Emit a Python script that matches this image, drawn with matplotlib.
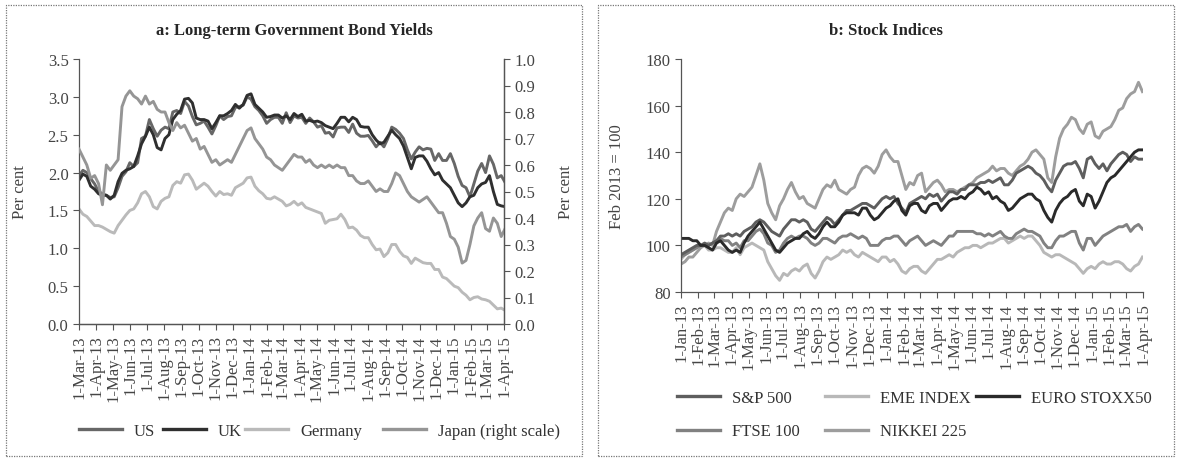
import matplotlib.pyplot as plt
import pandas as pd
from matplotlib.lines import Line2D
from matplotlib.patches import Rectangle

plt.rcParams["font.family"] = ["Liberation Serif", "DejaVu Serif"]
plt.rcParams["font.size"] = 12

# ---- panel a: 10-year government bond yields, weekly, from 1 Mar 2013 ----
bond_start = "2013-03-01"
us = [
    1.96, 2.03, 2.00, 1.92, 1.85,  # Mar 13
    1.75, 1.72, 1.70, 1.67,
    1.68, 1.80, 1.95, 2.01, 2.13,
    2.08, 2.13, 2.45, 2.48,
    2.70, 2.58, 2.48, 2.56,
    2.60, 2.58, 2.80, 2.82, 2.78,
    2.94, 2.88, 2.74, 2.63,
    2.65, 2.68, 2.60, 2.51,
    2.62, 2.75, 2.70, 2.74, 2.75,
    2.86, 2.87, 2.89, 3.00,
    2.97, 2.87, 2.82, 2.75, 2.65,  # Jan 14
    2.70, 2.73, 2.73, 2.65,
    2.79, 2.66, 2.75, 2.72,
    2.73, 2.65, 2.72, 2.67,
    2.60, 2.62, 2.52, 2.53, 2.47,
    2.59, 2.60, 2.60, 2.53,
    2.64, 2.52, 2.48, 2.48,
    2.49, 2.42, 2.34, 2.40, 2.34,
    2.45, 2.60, 2.57, 2.52,
    2.45, 2.30, 2.18, 2.27, 2.34,
    2.30, 2.32, 2.31, 2.16,
    2.25, 2.16, 2.16, 2.25,
    2.12, 1.95, 1.83, 1.80, 1.68,  # Jan 15
    1.85, 2.02, 2.12, 2.00,
    2.22, 2.11, 1.93, 1.96,
    1.87,
]
uk = [
    1.90, 1.98, 1.95, 1.82, 1.78,
    1.72, 1.70, 1.70, 1.65,
    1.70, 1.88, 1.99, 2.03, 2.05,
    2.08, 2.22, 2.38, 2.48,
    2.60, 2.50, 2.33, 2.30,
    2.45, 2.50, 2.70, 2.77, 2.82,
    2.97, 2.98, 2.92, 2.72,
    2.70, 2.70, 2.68, 2.58,
    2.66, 2.75, 2.75, 2.78, 2.82,
    2.90, 2.85, 2.90, 3.02,
    3.04, 2.90, 2.85, 2.80, 2.73,
    2.74, 2.76, 2.76, 2.72,
    2.75, 2.70, 2.78, 2.74,
    2.77, 2.68, 2.69, 2.67,
    2.68, 2.66, 2.62, 2.60, 2.58,
    2.65, 2.73, 2.73, 2.67,
    2.73, 2.70, 2.61, 2.60,
    2.60, 2.50, 2.43, 2.38, 2.40,
    2.48, 2.56, 2.50, 2.45,
    2.35, 2.20, 2.05, 2.20, 2.22,
    2.22, 2.15, 2.05, 1.97,
    2.00, 1.90, 1.85, 1.80,
    1.70, 1.60, 1.55, 1.60, 1.68,
    1.70, 1.80, 1.85, 1.87,
    1.96, 1.75, 1.58, 1.56,
    1.55,
]
germany = [
    1.52, 1.45, 1.42, 1.36, 1.30,
    1.30, 1.28, 1.25, 1.22,
    1.20, 1.30, 1.37, 1.44, 1.50,
    1.52, 1.60, 1.72, 1.75,
    1.68, 1.55, 1.52, 1.62,
    1.66, 1.68, 1.83, 1.88, 1.86,
    1.97, 1.98, 1.90, 1.78,
    1.82, 1.86, 1.82, 1.75,
    1.69, 1.75, 1.71, 1.72, 1.70,
    1.80, 1.83, 1.86, 1.93,
    1.94, 1.82, 1.76, 1.72, 1.66,
    1.65, 1.68, 1.65, 1.62,
    1.56, 1.58, 1.62, 1.57,
    1.60, 1.54, 1.52, 1.50,
    1.48, 1.46, 1.33, 1.37, 1.38,
    1.39, 1.45, 1.38, 1.27,
    1.28, 1.24, 1.17, 1.14,
    1.14, 1.05, 0.98, 0.99, 0.89,
    0.94, 1.05, 1.05, 0.96,
    0.90, 0.88, 0.80, 0.87, 0.84,
    0.81, 0.80, 0.80, 0.72,
    0.72, 0.62, 0.60, 0.55,
    0.50, 0.48, 0.42, 0.38, 0.32,
    0.35, 0.36, 0.33, 0.32,
    0.30, 0.25, 0.20, 0.21,
    0.18,
]
japan = [
    0.66, 0.63, 0.60, 0.55, 0.56,
    0.53, 0.45, 0.60, 0.58,
    0.60, 0.62, 0.82, 0.86, 0.88,
    0.86, 0.85, 0.83, 0.86,
    0.83, 0.84, 0.81, 0.80,
    0.80, 0.76, 0.73, 0.76, 0.74,
    0.75, 0.72, 0.69, 0.70,
    0.66, 0.67, 0.64, 0.61,
    0.62, 0.60, 0.61, 0.62, 0.61,
    0.64, 0.67, 0.70, 0.73,
    0.74, 0.70, 0.68, 0.66, 0.63,
    0.62, 0.60, 0.59, 0.58,
    0.60, 0.62, 0.64, 0.63,
    0.63, 0.61, 0.62, 0.60,
    0.59, 0.60, 0.59, 0.60, 0.59,
    0.60, 0.59, 0.59, 0.56,
    0.56, 0.54, 0.53, 0.53,
    0.54, 0.52, 0.50, 0.51, 0.50,
    0.50, 0.53, 0.57, 0.56,
    0.53, 0.50, 0.48, 0.47, 0.46,
    0.47, 0.48, 0.46, 0.44,
    0.42, 0.42, 0.38, 0.33,
    0.32, 0.29, 0.23, 0.24, 0.30,
    0.37, 0.40, 0.42, 0.36,
    0.35, 0.40, 0.38, 0.33,
    0.36,
]

# ---- panel b: stock indices, Feb 2013 = 100, weekly, from 1 Jan 2013 ----
stock_start = "2013-01-01"
sp500 = [
    96, 97, 98, 99, 100,  # Jan 13
    100, 101, 100, 101,
    102, 104, 104, 105,
    104, 105, 104, 106, 107,
    108, 110, 111, 110,
    108, 106, 105, 104,
    107, 109, 111, 111, 110,
    111, 110, 107, 106,
    108, 110, 112, 111,
    109, 111, 113, 115, 115,
    116, 117, 118, 118,
    117, 116, 118, 120, 121,
    120, 121, 118, 116,  # Jan 14
    114, 118, 119, 120,
    121, 120, 122, 121,
    122, 119, 121, 123, 123,
    122, 124, 124, 126,
    126, 126, 127, 127,
    128, 127, 128, 129, 126,
    126, 128, 131, 132,
    133, 134, 133, 131, 130,
    128, 125, 123, 128,
    131, 134, 135, 135,
    136, 133, 129, 137, 138,
    135, 133, 135, 132,  # Jan 15
    135, 137, 139, 140,
    139, 136, 138, 137, 137,
]
eme = [
    94, 96, 97, 98, 99,
    100, 100, 98, 98,
    99, 99, 98, 97,
    97, 99, 96, 99, 100,
    101, 100, 99, 98,
    93, 90, 87, 85,
    88, 87, 89, 90, 89,
    91, 92, 88, 86,
    89, 93, 95, 94,
    95, 96, 98, 97, 98,
    96, 95, 97, 96,
    95, 94, 93, 95, 95,
    93, 94, 92, 89,
    88, 90, 91, 91,
    89, 88, 90, 92,
    94, 94, 95, 96, 95,
    97, 98, 99, 99,
    100, 100, 99, 100,
    101, 101, 102, 103, 103,
    101, 102, 103, 104,
    103, 104, 104, 102, 100,
    97, 96, 95, 96,
    96, 95, 94, 93,
    92, 90, 88, 90, 91,
    90, 92, 93, 92,
    92, 93, 93, 92,
    90, 89, 91, 92, 95,
]
euro_stoxx50 = [
    103, 103, 103, 102, 102,
    100, 100, 99, 98,
    101, 102, 100, 98,
    97, 98, 97, 101, 104,
    106, 108, 110, 107,
    104, 101, 98, 97,
    99, 101, 102, 103, 103,
    105, 106, 104, 103,
    105, 108, 110, 108,
    108, 110, 113, 114, 114,
    114, 113, 116, 116,
    113, 111, 112, 114, 116,
    117, 119, 120, 115,
    113, 117, 118, 118,
    115, 114, 117, 118,
    118, 115, 117, 119, 120,
    120, 121, 120, 122,
    123, 125, 124, 122,
    123, 120, 121, 119, 118,
    115, 116, 118, 120,
    121, 122, 122, 120, 119,
    115, 112, 110, 115,
    118, 120, 121, 123,
    124, 119, 117, 122, 121,
    116, 119, 123, 127,
    129, 130, 132, 134,
    136, 138, 140, 141, 141,
]
ftse100 = [
    95, 96, 97, 98, 99,
    100, 100, 100, 101,
    102, 103, 102, 102,
    100, 101, 99, 102, 102,
    104, 106, 107, 105,
    101, 100, 97, 98,
    101, 103, 104, 103, 104,
    104, 103, 101, 100,
    101, 103, 103, 102,
    101, 103, 104, 104, 105,
    104, 103, 104, 103,
    100, 100, 100, 102, 103,
    103, 104, 104, 102,
    100, 102, 103, 104,
    102, 100, 101, 102,
    101, 100, 102, 104, 104,
    106, 106, 106, 106,
    106, 105, 105, 104,
    105, 104, 105, 106, 104,
    103, 103, 105, 106,
    107, 106, 106, 105, 104,
    101, 99, 99, 102,
    104, 104, 105, 106,
    106, 101, 98, 103, 103,
    100, 102, 104, 105,
    106, 107, 108, 108,
    109, 106, 108, 109, 107,
]
nikkei225 = [
    92, 93, 95, 95, 97,
    99, 100, 101, 100,
    106, 110, 114, 116,
    115, 120, 122, 121, 123,
    125, 130, 135, 128,
    118, 114, 111, 117,
    120, 124, 127, 123, 120,
    121, 118, 117, 116,
    120, 124, 126, 125,
    128, 124, 123, 122, 124,
    125, 130, 133, 134,
    133, 131, 134, 139, 141,
    138, 136, 136, 130,
    124, 127, 126, 130,
    131, 123, 125, 127,
    128, 126, 123, 124, 124,
    123, 124, 125, 126,
    127, 129, 130, 131,
    132, 134, 132, 133, 133,
    131, 130, 132, 134,
    135, 137, 140, 141, 139,
    137, 129, 127, 138,
    146, 150, 152, 155,
    154, 150, 148, 152, 153,
    147, 146, 149, 150,
    151, 154, 158, 159,
    163, 165, 166, 170, 166,
]

bond_months = pd.date_range("2013-03-01", "2015-04-01", freq="MS")
stock_months = pd.date_range("2013-01-01", "2015-04-01", freq="MS")


def weekly(start, values):
    return pd.date_range(start, periods=len(values), freq="7D")


def style_axis(ax, months):
    ax.spines["top"].set_visible(False)
    for side in ("left", "bottom", "right"):
        ax.spines[side].set_color("#555555")
        ax.spines[side].set_linewidth(0.9)
    ax.tick_params(direction="out", length=4, width=0.8, color="#555555",
                   labelcolor="#444444", labelsize=12)
    ax.set_xticks(months)
    ax.set_xticklabels([f"1-{d:%b-%y}" for d in months], rotation=90)
    ax.set_xlim(months[0], months[-1])


def add_legend(items, x, y):
    handles = [Line2D([], [], color=c, lw=2.4) for _, c in items]
    fig.legend(handles, [n for n, _ in items], loc="upper left",
               bbox_to_anchor=(x, y), frameon=False, fontsize=12,
               handlelength=2.6, handletextpad=0.7, borderpad=0,
               borderaxespad=0, labelspacing=1.05, labelcolor="#333333")


fig = plt.figure(figsize=(11.81, 4.6), dpi=100)

# dotted panel frames
for x0, x1 in ((6, 582), (598, 1174)):
    fig.patches.append(Rectangle((x0 / 1181, 3 / 460), (x1 - x0) / 1181, 451 / 460,
                                 transform=fig.transFigure, fill=False,
                                 ec="#777777", lw=0.9, ls=(0, (1, 1))))

c_us, c_uk, c_de, c_jp = "#676767", "#2f2f2f", "#bababa", "#959595"

ax_a = fig.add_axes([79 / 1181, 1 - 325 / 460, 425 / 1181, 265 / 460])
ax_a.plot(weekly(bond_start, us), us, color=c_us, lw=2.1)
ax_a.plot(weekly(bond_start, uk), uk, color=c_uk, lw=2.1)
ax_a.plot(weekly(bond_start, germany), germany, color=c_de, lw=2.1)
ax_a.set_ylim(0, 3.5)
ax_a.set_yticks([0, 0.5, 1.0, 1.5, 2.0, 2.5, 3.0, 3.5])
ax_a.yaxis.set_major_formatter("{x:.1f}")
style_axis(ax_a, bond_months)
ax_a.set_ylabel("Per cent", color="#444444", fontsize=12)
ax_a.yaxis.set_label_coords(-0.12, 0.5)

ax_jp = ax_a.twinx()
ax_jp.plot(weekly(bond_start, japan), japan, color=c_jp, lw=2.1)
ax_jp.set_ylim(0, 1.0)
ax_jp.set_yticks([i / 10 for i in range(11)])
ax_jp.yaxis.set_major_formatter("{x:.1f}")
style_axis(ax_jp, bond_months)
ax_jp.spines["left"].set_visible(False)
ax_jp.set_ylabel("Per cent", color="#444444", fontsize=12, rotation=90)
ax_jp.yaxis.set_label_coords(1.128, 0.5)

fig.text(294 / 1181, 1 - 31 / 460, "a: Long-term Government Bond Yields",
         ha="center", va="center", fontsize=12, fontweight="bold",
         color="#262626")

add_legend([("US", c_us)], 79 / 1181, 1 - 424 / 460)
add_legend([("UK", c_uk)], 163 / 1181, 1 - 424 / 460)
add_legend([("Germany", c_de)], 245 / 1181, 1 - 424 / 460)
add_legend([("Japan (right scale)", c_jp)], 383 / 1181, 1 - 424 / 460)

c_sp, c_eme, c_eu, c_ft, c_nk = "#5e5e5e", "#b8b8b8", "#2a2a2a", "#818181", "#9d9d9d"

ax_b = fig.add_axes([681 / 1181, 1 - 293 / 460, 462 / 1181, 233 / 460])
ax_b.plot(weekly(stock_start, nikkei225), nikkei225, color=c_nk, lw=2.1)
ax_b.plot(weekly(stock_start, eme), eme, color=c_eme, lw=2.1)
ax_b.plot(weekly(stock_start, ftse100), ftse100, color=c_ft, lw=2.1)
ax_b.plot(weekly(stock_start, sp500), sp500, color=c_sp, lw=2.1)
ax_b.plot(weekly(stock_start, euro_stoxx50), euro_stoxx50, color=c_eu, lw=2.1)
ax_b.set_ylim(80, 180)
ax_b.set_yticks(range(80, 181, 20))
style_axis(ax_b, stock_months)
ax_b.spines["right"].set_visible(False)
ax_b.set_ylabel("Feb 2013 = 100", color="#444444", fontsize=12)
ax_b.yaxis.set_label_coords(-0.121, 0.5)

fig.text(886 / 1181, 1 - 31 / 460, "b: Stock Indices",
         ha="center", va="center", fontsize=12, fontweight="bold",
         color="#262626")

add_legend([("S&P 500", c_sp), ("FTSE 100", c_ft)], 677 / 1181, 1 - 391 / 460)
add_legend([("EME INDEX", c_eme), ("NIKKEI 225", c_nk)], 825 / 1181, 1 - 391 / 460)
add_legend([("EURO STOXX50", c_eu)], 976 / 1181, 1 - 391 / 460)

fig.savefig("out.png", dpi=100)
